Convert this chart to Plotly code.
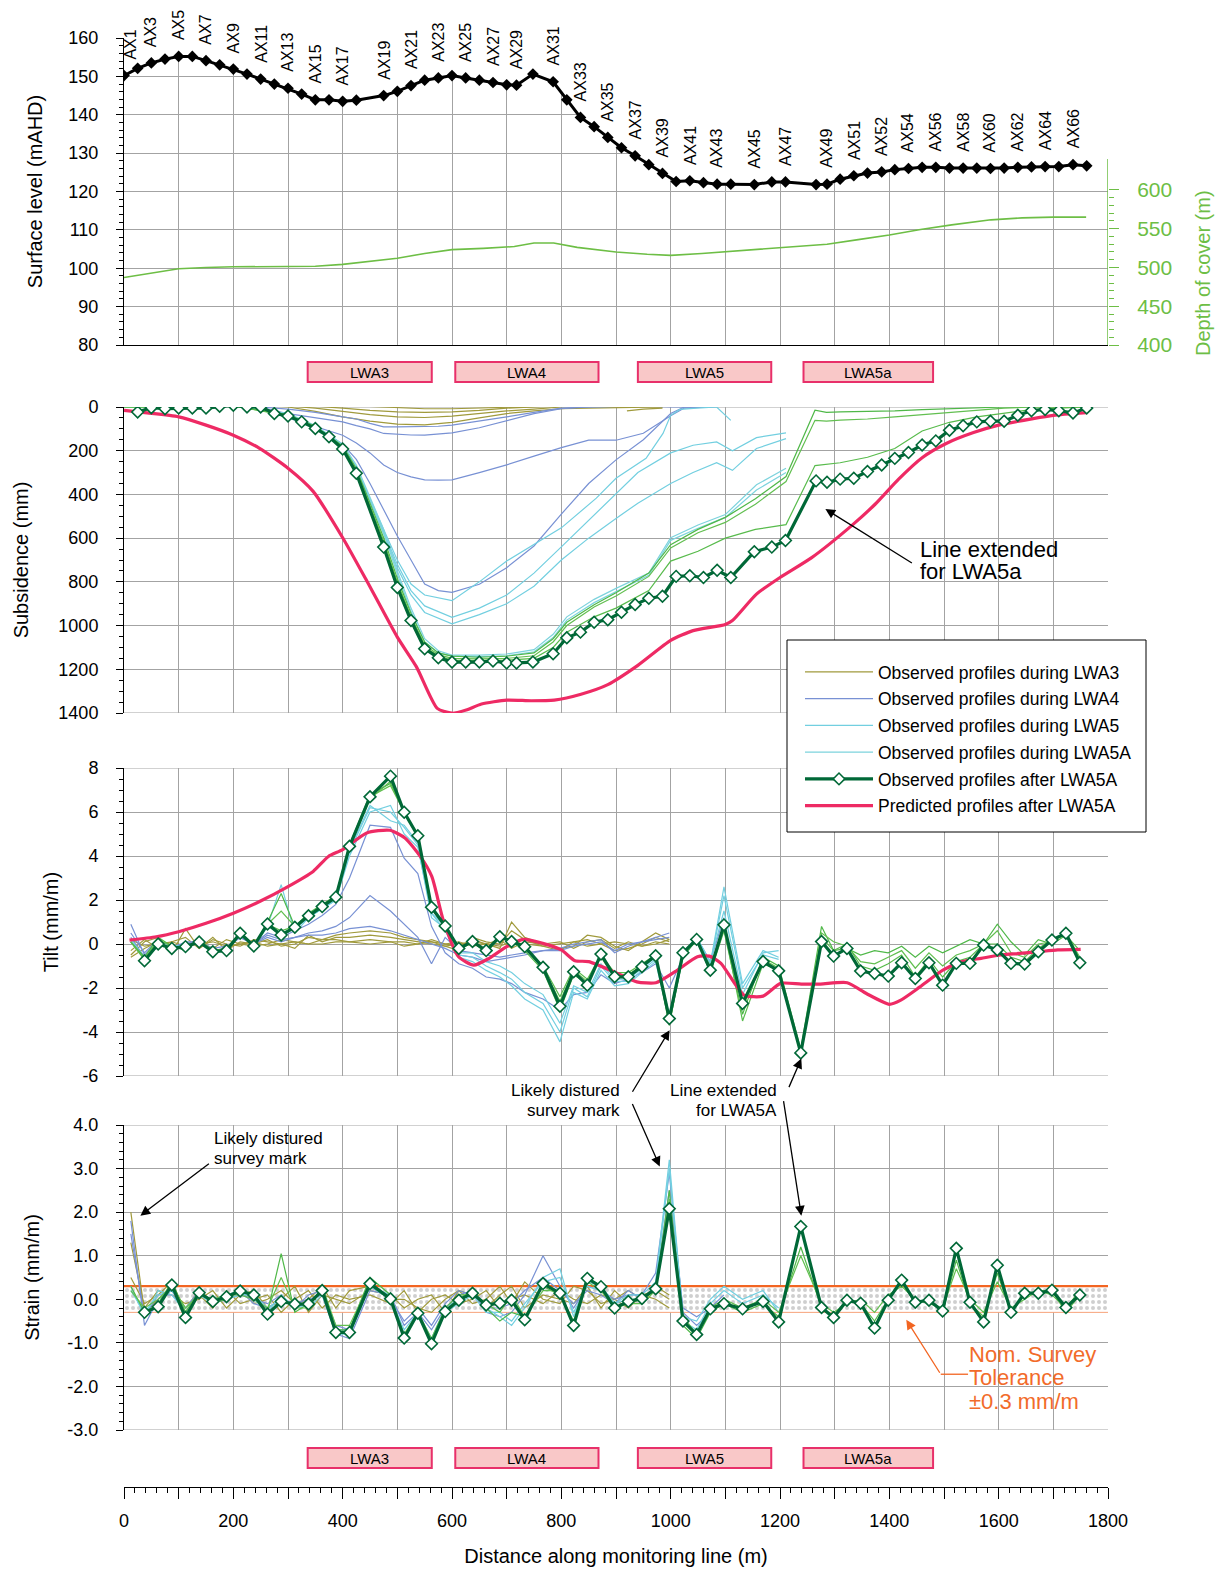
import plotly.graph_objects as go

# ------------------------------------------------------------------ DATA
mark_dist = [0, 25, 50, 75, 100, 125, 150, 175, 200, 225, 250, 275, 300, 325, 350, 375, 400, 425,
             475, 500, 525, 550, 575, 600, 625, 650, 675, 700, 718, 748, 785, 810, 835, 860, 885,
             910, 935, 960, 985, 1010, 1035, 1060, 1085, 1110, 1153, 1185, 1210, 1266, 1286,
             1310, 1335, 1360, 1386, 1410, 1435, 1460, 1485, 1510, 1535, 1560, 1585, 1610,
             1635, 1660, 1685, 1710, 1736, 1761]
surface_level = [150.2, 152.1, 153.5, 154.5, 155.2, 155.2, 154.1, 153.0, 151.9, 150.6, 149.3, 148.0,
                 146.9, 145.4, 143.9, 143.9, 143.5, 143.8,
                 145.0, 146.1, 147.6, 149.0, 149.6, 150.2, 149.6, 149.0, 148.4, 147.8,
                 147.7, 150.6,
                 148.6, 143.9, 139.3, 136.9, 134.1, 131.4, 129.3, 127.0, 124.7, 122.6, 122.8, 122.3,
                 121.9, 121.9,
                 121.8, 122.5, 122.5,
                 121.8, 121.9,
                 123.2, 124.1, 124.8, 125.1, 125.7, 126.0, 126.3, 126.3, 126.1, 126.1, 126.1, 126.0,
                 126.1, 126.3, 126.4, 126.5, 126.5, 127.0, 126.7]
mark_labels = ["AX1", "AX3", "AX5", "AX7", "AX9", "AX11", "AX13", "AX15", "AX17", "AX19", "AX21",
               "AX23", "AX25", "AX27", "AX29", "AX31", "AX33", "AX35", "AX37", "AX39", "AX41",
               "AX43", "AX45", "AX47", "AX49", "AX51", "AX52", "AX54", "AX56", "AX58", "AX60",
               "AX62", "AX64", "AX66"]

cover_x = [0, 50, 100, 150, 200, 300, 350, 400, 450, 500, 550, 600, 657, 714, 750, 786, 829, 900,
           957, 1000, 1057, 1143, 1200, 1286, 1343, 1400, 1457, 1514, 1586, 1643, 1700, 1760]
cover_depth = [487, 492.6, 498.3, 500, 500.9, 501.3, 501.7, 504, 508, 512, 518, 523, 524.7, 527,
               531.6, 531.6, 526, 520, 517, 515.6, 518, 522.5, 526, 530, 536, 542, 549, 555, 561.5,
               564, 565, 565]

panels = ["LWA3", "LWA4", "LWA5", "LWA5a"]
panel_start = [336, 606, 940, 1243]
panel_end = [563, 868, 1184, 1480]

# Subsidence (mm)
subs_final = [23, 3, 8, 5, 5, 5, -3, -8, 0, 0, 30, 41, 68, 98, 136, 192, 303,
              641, 826, 977, 1106, 1147, 1167, 1167, 1167, 1162, 1171,
              1171, 1167,
              1129, 1056, 1030, 985, 973, 939, 904, 875, 866, 775, 772, 780, 747, 780,
              662, 641, 611,
              338, 344,
              330, 326, 295, 265, 235, 208, 174, 155, 106, 86, 68, 65, 65, 38, 17, 11, 17, 27, 5]
pred_x = [0, 38, 100, 150, 200, 248, 300, 346, 400, 444, 500, 535, 573, 600, 626, 654, 700, 745,
          787, 836, 885, 940, 1000, 1041, 1100, 1113, 1157, 1200, 1258, 1330, 1374, 1417, 1460,
          1504, 1554, 1600, 1663, 1700, 1760]
pred_subs = [15, 26, 45, 83, 129, 189, 280, 386, 598, 795, 1053, 1189, 1379, 1401, 1386, 1359,
             1341, 1344, 1341, 1314, 1270, 1182, 1068, 1023, 995, 977, 856, 780, 689, 545, 445,
             330, 232, 167, 117, 83, 53, 38, 26]

lwa3_x = [0, 50, 100, 150, 200, 250, 300, 350, 400, 450, 500, 550, 600, 650, 700, 750, 800, 850,
          900, 950, 985]
lwa3_s1 = [0, -5, -5, -8, -10, -8, 0, 20, 45, 65, 78, 82, 70, 50, 30, 18, 8, 5, 3, 2, 0]
lwa3_s2 = [0, -8, -8, -10, -10, -8, -5, 5, 20, 35, 45, 48, 42, 30, 18, 10, 0, -5, 0, -3, 0]
lwa3_s3 = [0, -10, -10, -12, -12, -15, -12, -5, 5, 15, 22, 25, 22, 15, 5, 0, -5, -8, -3, -5, -3]
lwa3_s4 = [0, -10, -12, -12, -15, -15, -15, -12, -8, -2, 5, 8, 8, 5, 0, -3, -5, -8, -5, -5, -5]
lwa3_s5_x = [920, 950, 985]
lwa3_s5 = [18, 10, 5]

lwa4_x = [0, 100, 200, 250, 300, 350, 400, 425, 450, 475, 500, 525, 550, 575, 600, 650, 700, 750,
          800, 850, 900, 950, 1000, 1025, 1060, 1110]
lwa4_s1 = [0, -5, -5, 0, 10, 25, 45, 55, 75, 91, 91, 91, 91, 88, 83, 65, 45, 25, 5, 0, -3, -5, 0,
           0, -3, -5]
lwa4_s2 = [0, -5, -5, 5, 30, 50, 68, 85, 100, 121, 125, 128, 129, 125, 118, 95, 61, 30, 8, 0, -3,
           -5, -3, 0, -3, -5]
lwa4_s3 = [0, -5, -5, 5, 50, 90, 129, 165, 210, 265, 300, 320, 333, 335, 333, 300, 265, 225, 186,
           152, 152, 120, 40, 5, 0, -5]
lwa4_s4 = [0, -5, -5, 0, 35, 90, 170, 240, 350, 470, 590, 700, 810, 840, 848, 811, 735, 636, 490,
           350, 242, 150, 30, 0, 0, -5]

lwa5_x1 = [0, 100, 200, 300, 350, 400, 425, 450, 475, 500, 525, 550, 600, 650, 700, 750, 800, 864,
           900, 955, 986, 1000, 1017, 1048, 1084, 1110]
lwa5_s1 = [0, -5, -5, 30, 95, 180, 290, 420, 560, 700, 810, 860, 886, 800, 705, 629, 553, 417, 326,
           235, 121, 38, 11, 5, 0, 61]
lwa5_x = [0, 100, 200, 300, 350, 400, 425, 450, 475, 500, 525, 550, 600, 650, 700, 750, 800, 850,
          900, 940, 1000, 1041, 1084, 1113, 1157, 1211]
lwa5_s2 = [0, -5, -5, 30, 95, 182, 292, 425, 570, 720, 840, 910, 962, 920, 860, 760, 640, 520, 400,
           300, 210, 175, 160, 200, 140, 118]
lwa5_s3 = [0, -5, -5, 32, 96, 185, 295, 430, 580, 735, 860, 940, 992, 950, 900, 820, 700, 600, 510,
           440, 350, 300, 255, 290, 190, 145]

lwa5a_x = [0, 100, 200, 300, 350, 400, 425, 475, 500, 525, 550, 575, 600, 650, 700, 750, 785, 810,
           860, 900, 960, 1000, 1050, 1100, 1157, 1211]
lwa5a_s1 = [0, 0, -5, 30, 85, 170, 265, 560, 750, 920, 1060, 1115, 1135, 1135, 1130, 1110, 1040,
            960, 880, 830, 760, 598, 540, 492, 356, 280]
lwa5a_s2 = [0, 0, -5, 32, 88, 175, 272, 575, 765, 935, 1075, 1125, 1140, 1142, 1138, 1120, 1055,
            975, 895, 845, 770, 610, 555, 505, 380, 300]

green_x = [0, 100, 200, 300, 350, 400, 425, 475, 500, 525, 550, 575, 600, 650, 700, 750, 785, 810,
           860, 900, 960, 1000, 1050, 1100, 1155, 1211, 1264, 1285, 1310, 1360, 1410, 1460, 1510,
           1560, 1610, 1660, 1710, 1760]
green_s1 = [0, 0, -5, 35, 88, 178, 282, 598, 785, 945, 1075, 1125, 1140, 1145, 1140, 1125, 1060,
            985, 905, 850, 760, 630, 560, 505, 420, 318, 15, 25, 22, 20, 18, 12, 8, 5, 0, 0, 0, 0]
green_s2 = [0, 0, -5, 38, 92, 183, 290, 612, 800, 958, 1088, 1133, 1150, 1152, 1150, 1138, 1075,
            1000, 915, 865, 775, 645, 575, 528, 445, 341, 61, 65, 60, 55, 45, 35, 25, 15, 5, 0, 0, 0]
green_s3 = [0, 0, -5, 40, 95, 188, 296, 625, 812, 966, 1096, 1140, 1158, 1160, 1158, 1150, 1100,
            1030, 960, 920, 840, 705, 660, 600, 560, 538, 268, 262, 255, 230, 190, 110, 70, 45, 30,
            12, 5, 0]

# Tilt (mm/m) at bay mid-points
tilt_final = [-0.76, 0.0, -0.2, -0.12, 0.09, -0.35, -0.3, 0.49, -0.09, 0.91,
              0.41, 0.76, 1.28, 1.70, 2.13, 4.44, 6.69, 7.63, 5.99, 4.92,
              1.67, 0.82, -0.2, 0.11, -0.3, 0.33, 0.11, -0.12, -1.06, -2.83,
              -1.26, -1.87, -0.46, -1.49, -1.49, -1.03, -0.53, -3.39, -0.4, 0.21,
              -1.19, 0.87, -2.7, -0.8, -1.22, -4.95, 0.11, -0.55, -0.2, -1.23,
              -1.34, -1.46, -0.85, -1.57, -0.85, -1.87, -0.88, -0.88, -0.05, -0.27,
              -0.88, -0.91, -0.35, 0.18, 0.49, -0.85]
pred_tilt_x = [10, 59, 100, 150, 200, 248, 300, 346, 374, 400, 444, 486, 514, 542, 563, 584, 612,
               640, 668, 700, 731, 766, 800, 825, 850, 900, 938, 973, 1008, 1049, 1071, 1092, 1134,
               1169, 1201, 1239, 1274, 1323, 1358, 1400, 1421, 1456, 1498, 1533, 1568, 1603, 1638,
               1673, 1708, 1750]
pred_tilt = [0.18, 0.33, 0.56, 0.94, 1.4, 1.93, 2.61, 3.3, 3.98, 4.29, 5.05, 5.17, 4.82, 3.98, 3.07,
             1.09, -0.58, -0.96, -0.65, -0.12, 0.21, 0.03, -0.27, -0.76, -0.8, -1.3, -1.72, -1.76,
             -1.26, -0.58, -0.55, -0.88, -2.32, -2.37, -1.79, -1.82, -1.82, -1.76, -2.25, -2.74,
             -2.55, -1.95, -1.19, -0.8, -0.65, -0.5, -0.43, -0.35, -0.27, -0.24]
tilt_lwa3 = [
    [-0.5, 0.1, 0.3, -0.4, 0.7, -0.2, 0.3, -0.3, 0.1, 0.0, 0.2, -0.1, 0.0, 0.3, 0.2, 0.4, 0.5, 0.6,
     0.5, 0.3, 0.2, 0.1, 0.0, -0.1, 0.2, 0.0, -0.2, 1.0, 0.3, 0.0, -0.2, -0.1, 0.4, 0.3, -0.1, -0.3,
     0.1, 0.5, 0.2],
    [-0.3, 0.2, -0.2, 0.1, 0.3, -0.2, 0.2, 0.0, -0.1, 0.2, 0.1, 0.0, -0.2, 0.4, 0.1, 0.3, 0.3, 0.4,
     0.3, 0.2, 0.1, 0.0, -0.1, -0.3, 0.3, 0.1, 0.0, 0.6, 0.2, -0.1, -0.3, 0.1, 0.2, 0.0, -0.3, -0.2,
     0.0, 0.3, 0.1],
    [-0.6, -0.2, 0.1, -0.2, 0.0, 0.1, -0.2, 0.2, 0.0, -0.1, 0.0, 0.2, 0.1, 0.0, 0.2, 0.2, 0.1, 0.2,
     0.1, 0.1, 0.0, 0.2, 0.0, 0.1, -0.1, 0.0, 0.2, -0.2, 0.1, 0.0, 0.1, -0.2, 0.1, 0.2, -0.2, 0.1,
     -0.1, 0.0, 0.2],
    [0.2, -0.1, 0.0, 0.1, -0.1, 0.0, 0.1, -0.1, 0.0, 0.1, -0.1, 0.0, 0.1, 0.0, 0.0, 0.1, 0.1, 0.0,
     0.1, -0.1, 0.0, 0.1, -0.1, 0.0, 0.1, 0.0, -0.1, 0.1, 0.0, -0.1, 0.0, 0.1, -0.1, 0.0, 0.1, 0.0,
     -0.1, 0.1, 0.0]]
tilt_lwa4 = [
    [0.9, -0.5, 0.1, -0.1, 0.0, 0.2, -0.3, -0.2, 0.3, 0.0, 0.4, 0.2, 0.3, 0.5, 0.6, 0.8, 1.2, 2.2,
     1.5, 0.9, 0.3, -0.9, 0.3, -0.3, -0.4, -0.5, -0.6, -0.5, -0.4, -0.3, -0.2, 0.0, 0.1, 0.2, -0.4,
     -0.1, 0.1, 0.2, 0.3],
    [0.5, -0.4, 0.2, -0.2, 0.1, 0.1, -0.2, -0.1, 0.3, 0.0, 0.3, 0.1, 0.3, 0.4, 0.4, 0.5, 0.7, 0.8,
     0.6, 0.4, 0.2, 0.0, -0.2, -0.5, -0.6, -0.8, -0.7, -0.6, -0.5, -0.3, -0.3, -0.1, 0.0, 0.1, -0.3,
     0.0, 0.1, 0.3, 0.5],
    [0.3, -0.6, 0.1, -0.2, 0.0, 0.1, -0.3, -0.2, 0.4, 0.0, 0.5, 0.3, 0.6, 0.9, 1.3, 1.8, 3.0, 5.4,
     5.3, 3.9, 3.2, 0.8, -0.4, -0.9, -1.1, -1.5, -1.6, -1.8, -2.2, -2.5, -3.0, -2.3, -2.2, -1.4,
     -1.8, -1.6, -1.3, -0.9, -2.0, -0.6, 0.3, -0.8, 1.2]]
tilt_lwa5 = [
    [0.2, -0.6, 0.0, -0.1, -0.1, 0.1, -0.3, -0.3, 0.5, -0.1, 0.8, 2.7, 0.5, 1.2, 1.6, 2.0, 4.0, 6.0,
     6.3, 5.0, 4.4, 1.4, 0.6, -0.6, -0.8, -1.2, -1.5, -1.9, -2.5, -3.0, -4.45, -2.2, -2.5, -1.2,
     -1.9, -1.8, -1.3, -0.8, -3.5, -0.6, 0.2, -0.9, 2.6, -1.8, -0.3, -0.6],
    [0.1, -0.6, 0.0, -0.1, -0.1, 0.1, -0.3, -0.3, 0.5, -0.1, 0.8, 0.5, 0.7, 1.2, 1.6, 2.0, 4.2, 6.2,
     6.0, 5.3, 4.5, 1.2, 0.7, -0.5, -0.6, -1.0, -1.3, -1.6, -2.2, -2.7, -4.0, -2.0, -2.4, -1.0,
     -1.7, -1.7, -1.2, -0.7, -3.3, -0.5, 0.3, -0.9, 2.2, -2.0, -0.5, -0.7],
    [0.1, -0.7, -0.1, -0.1, -0.1, 0.1, -0.3, -0.3, 0.5, -0.1, 0.9, 0.4, 0.7, 1.3, 1.7, 2.1, 4.3,
     6.3, 5.6, 5.4, 4.6, 1.4, 0.8, -0.4, -0.4, -0.8, -1.0, -1.3, -1.8, -2.3, -3.6, -1.9, -2.2, -0.9,
     -1.6, -1.6, -1.1, -0.6, -3.2, -0.4, 0.3, -0.8, 1.5, -2.3, -0.4, -0.3]]
tilt_lwa5a = [
    [0.1, -0.6, 0.3, -0.1, -0.3, 0.2, -0.3, -0.2, 0.5, -0.1, 1.0, 2.3, 0.8, 1.4, 1.8, 2.2, 4.5, 6.8,
     7.3, 6.0, 4.9, 1.6, 0.8, -0.3, 0.1, -0.4, 0.3, 0.1, -0.3, -1.2, -3.0, -1.4, -1.8, -0.5, -1.4,
     -1.4, -1.0, -0.5, -3.6, -0.6, 0.2, -1.3, 0.6, -3.2, -0.6, -1.0, -4.8, 0.8, -0.3, -0.2, -0.5,
     -0.3, -0.4, -0.1, -0.6, -0.1, -0.4, -0.1, 0.2, 0.0, 0.9, 0.1, -0.5, 0.2, 0.0, 0.4, -0.3],
    [0.1, -0.7, 0.2, -0.1, -0.2, 0.1, -0.3, -0.3, 0.5, -0.1, 0.9, 1.5, 0.8, 1.3, 1.8, 2.1, 4.5, 6.7,
     7.2, 6.0, 4.9, 1.7, 0.8, -0.2, 0.1, -0.3, 0.3, 0.1, -0.2, -1.1, -2.6, -1.2, -1.7, -0.6, -1.5,
     -1.4, -1.0, -0.6, -3.5, -0.5, 0.2, -1.1, 0.7, -2.9, -0.7, -1.1, -4.9, 0.5, 0.1, -0.1, -0.8,
     -0.9, -0.6, -0.3, -1.1, -0.4, -1.0, -0.5, -0.3, 0.0, 0.6, -0.4, -0.6, 0.0, 0.1, 0.5, -0.6],
    [0.1, -0.7, 0.1, -0.2, -0.1, 0.1, -0.3, -0.3, 0.5, -0.1, 0.9, 0.6, 0.8, 1.3, 1.7, 2.1, 4.4, 6.6,
     7.4, 6.0, 4.9, 1.7, 0.8, -0.2, 0.1, -0.3, 0.3, 0.1, -0.1, -1.0, -2.4, -1.1, -1.6, -0.5, -1.3,
     -1.3, -0.9, -0.5, -3.7, -0.4, 0.1, -1.0, 0.8, -3.5, -0.9, -1.2, -5.0, 0.3, -0.3, 0.0, -1.0,
     -1.2, -0.9, -0.5, -1.5, -0.7, -1.5, -0.8, -0.6, 0.0, 0.0, -0.6, -0.8, -0.2, 0.2, 0.4, -0.7]]

# Strain (mm/m) at bay mid-points
strain_final = [-0.30, -0.17, 0.33, -0.42, 0.15, -0.05, 0.06, 0.19, 0.10, -0.34,
                -0.05, -0.11, -0.11, 0.20, -0.76, -0.76, 0.36, 0.01, -0.89, -0.32,
                -1.02, -0.28, -0.02, 0.14, -0.13, -0.09, -0.02, -0.47, 0.36, 0.14,
                -0.60, 0.48, 0.29, -0.20, -0.05, 0.02, 0.24, 2.08, -0.50, -0.81,
                -0.22, -0.10, -0.22, -0.05, -0.52, 1.67, -0.19, -0.42, -0.02, -0.09,
                -0.66, -0.02, 0.44, -0.07, -0.02, -0.27, 1.17, -0.07, -0.52, 0.78,
                -0.30, 0.14, 0.14, 0.21, -0.19, 0.10]
strain_lwa3 = [
    [2.0, -0.3, 0.0, 0.3, -0.2, 0.2, -0.1, 0.1, 0.2, -0.1, 0.0, 0.2, -0.1, 0.0, 0.3, -0.2, 0.2, 0.3,
     0.0, 0.0, -0.2, -0.3, 0.0, 0.2, -0.1, 0.0, 0.3, -0.1, 0.4, 0.0, -0.1, 0.3, 0.2, -0.1, 0.0, 0.2,
     0.0, 0.3, 0.1],
    [1.3, -0.2, 0.2, 0.1, -0.1, 0.0, 0.2, -0.2, 0.1, 0.2, -0.2, 0.0, 0.3, -0.3, 0.1, 0.0, -0.1, 0.2,
     0.1, -0.2, 0.0, 0.1, -0.3, 0.2, 0.1, -0.2, 0.1, 0.3, -0.2, 0.1, 0.0, -0.1, 0.3, -0.2, 0.2, -0.1,
     0.1, 0.0, -0.2],
    [0.5, -0.1, 0.1, 0.4, -0.3, 0.1, -0.2, 0.2, -0.1, 0.0, 0.1, -0.3, 0.0, 0.2, -0.2, 0.1, 0.0, 0.1,
     -0.1, 0.2, -0.3, 0.0, 0.1, -0.1, 0.0, 0.2, -0.2, 0.0, 0.1, -0.1, 0.2, 0.0, -0.1, 0.1, 0.0, -0.2,
     0.1, 0.2, 0.0]]
strain_lwa4 = [
    [1.8, -0.6, 0.0, 0.2, -0.3, 0.1, 0.0, 0.1, 0.2, -0.1, -0.2, 0.0, -0.1, 0.0, 0.1, -0.8, -0.9, 0.2,
     0.1, -0.6, -0.3, -0.7, -0.2, 0.1, 0.2, -0.3, -0.4, -0.3, 0.1, 1.0, 0.3, -0.2, 0.3, 0.2, 0.0,
     0.1, 0.1, 0.6, 2.9, -0.3, -0.6, -0.3, 0.0],
    [1.5, -0.4, 0.1, 0.1, -0.2, 0.2, -0.1, 0.0, 0.1, 0.0, -0.1, 0.1, -0.2, 0.1, 0.2, -0.6, -0.7, 0.3,
     0.0, -0.5, -0.2, -0.6, -0.1, 0.2, 0.1, -0.2, -0.2, -0.1, 0.2, 0.5, 0.2, -0.1, 0.2, 0.1, -0.1,
     0.2, 0.0, 0.3, 2.5, -0.2, -0.4, -0.2, 0.1]]
strain_lwa5 = [
    [0.3, -0.4, 0.2, 0.1, -0.3, 0.1, -0.1, 0.1, 0.2, 0.0, -0.3, 0.1, -0.2, -0.1, 0.2, -0.8, -0.8,
     0.3, 0.0, -0.7, -0.3, -0.9, -0.2, 0.0, 0.2, -0.2, -0.4, -0.6, -0.2, 0.5, 0.7, -0.4, 0.4, 0.3,
     -0.1, 0.1, 0.1, 0.4, 3.2, -0.4, -0.5, 0.0, 0.3, 0.0, 0.2, -0.3],
    [0.2, -0.3, 0.1, 0.2, -0.2, 0.1, 0.0, 0.0, 0.1, 0.1, -0.2, 0.0, -0.1, -0.2, 0.1, -0.7, -0.7, 0.3,
     0.1, -0.8, -0.4, -0.9, -0.3, -0.1, 0.1, -0.3, -0.3, -0.5, -0.1, 0.4, 0.5, -0.3, 0.3, 0.2, -0.1,
     0.0, 0.0, 0.3, 3.0, -0.5, -0.7, -0.1, 0.2, -0.1, 0.1, -0.2]]
strain_lwa5a = [
    [0.3, -0.3, -0.1, 0.4, -0.3, 0.2, -0.1, 0.0, 0.2, 0.1, -0.3, 1.05, -0.3, -0.1, 0.2, -0.7, -0.7,
     0.5, 0.1, -0.9, -0.3, -1.0, -0.3, 0.0, 0.2, -0.2, -0.5, -0.3, -0.4, 0.3, 0.1, -0.5, 0.5, 0.3,
     -0.2, -0.1, 0.0, 0.2, 2.5, -0.6, -0.9, -0.3, -0.1, -0.3, -0.1, -0.4, 1.2, -0.2, -0.4, 0.0,
     -0.1, -0.5, 0.0, 0.4, -0.1, 0.0, -0.3, 0.9, -0.1, -0.4, 0.6, -0.3, 0.1, 0.2, 0.1, -0.2, 0.2],
    [0.2, -0.2, 0.0, 0.3, -0.2, 0.1, 0.0, 0.1, 0.1, 0.0, -0.2, 0.5, -0.2, -0.2, 0.3, -0.6, -0.6, 0.4,
     0.0, -0.8, -0.3, -0.9, -0.2, 0.1, 0.1, -0.1, -0.3, 0.1, -0.4, 0.2, 0.2, -0.6, 0.4, 0.2, -0.2,
     -0.1, -0.1, 0.2, 2.3, -0.4, -0.8, -0.2, 0.0, -0.2, 0.0, -0.3, 1.0, -0.1, -0.3, -0.1, 0.0, -0.3,
     0.1, 0.3, 0.0, -0.1, -0.2, 0.7, 0.0, -0.3, 0.4, -0.2, 0.0, 0.2, 0.2, -0.3, 0.1]]

tolerance = 0.3
tilt_ticks = [-6, -4, -2, 0, 2, 4, 6, 8]
tilt_ticktext = ["-6", "-4", "-2", "0", "2", "4", "6", "8"]
strain_ticks = [-3, -2, -1, 0, 1, 2, 3, 4]
strain_ticktext = ["-3.0", "-2.0", "-1.0", "0.0", "1.0", "2.0", "3.0", "4.0"]
dist_ticks = list(range(0, 1801, 100))
dist_ticktext = [str(v) if v % 200 == 0 else "" for v in dist_ticks]

# ------------------------------------------------------------------ STYLE
C_OLIVE = "#a09a3c"
C_BLUE = "#7891d4"
C_CYAN5 = "#72cfe0"
C_CYAN5A = "#7dd3dd"
C_GREENS = ["#4fb848", "#62bf50", "#58bb4c"]
C_DARK = "#006837"
C_PRED = "#ee2a64"
C_COVER = "#6dbe45"
C_ORANGE = "#f26522"
GRID = "#a3a3a3"
FONT = "Arial, Liberation Sans, sans-serif"

OFF = 8                     # page body margin
W, H = 1227 - OFF, 1573 - OFF
PW, PH = 984, 1449
L, T = 124 - OFF, 38 - OFF
R, B = W - L - PW, H - T - PH


def py(px):  # reference pixel row -> paper y
    return (T + PH - (px - OFF)) / PH


def pxx(px):  # reference pixel column -> paper x
    return (px - OFF - L) / PW


def dom(top, bot):
    return [py(bot), py(top)]


mid = [(a + b) / 2 for a, b in zip(mark_dist[:-1], mark_dist[1:])]

fig = go.Figure()


def line(x, y, xa, ya, color, width=1.2, name=None, legend=False, rank=None, **kw):
    n = min(len(x), len(y))
    fig.add_trace(go.Scatter(x=x[:n], y=y[:n], xaxis=xa, yaxis=ya, mode="lines",
                             line=dict(color=color, width=width), name=name,
                             showlegend=legend, legendrank=rank, hoverinfo="skip", **kw))


# ---- Panel 1: surface level and depth of cover
fig.add_trace(go.Scatter(x=mark_dist + [1800, 1800, 0],
                         y=surface_level + [surface_level[-1], 170, 170],
                         xaxis="x", yaxis="y", mode="lines", fill="toself",
                         fillcolor="white", line=dict(width=0), showlegend=False,
                         hoverinfo="skip"))
line(cover_x, cover_depth, "x", "y2", C_COVER, 1.6)
fig.add_trace(go.Scatter(x=mark_dist, y=surface_level, xaxis="x", yaxis="y",
                         mode="lines+markers", line=dict(color="black", width=3),
                         marker=dict(symbol="diamond", size=9, color="black"),
                         showlegend=False, hoverinfo="skip"))

# ---- Panel 2: subsidence
for i, s in enumerate([lwa3_s1, lwa3_s2, lwa3_s3, lwa3_s4]):
    line(lwa3_x, s, "x2", "y3", C_OLIVE, name="Observed profiles during LWA3",
         legend=(i == 0), rank=1, legendgroup="a")
line(lwa3_s5_x, lwa3_s5, "x2", "y3", C_OLIVE, legendgroup="a")
for i, s in enumerate([lwa4_s1, lwa4_s2, lwa4_s3, lwa4_s4]):
    line(lwa4_x, s, "x2", "y3", C_BLUE, name="Observed profiles during LWA4",
         legend=(i == 0), rank=2, legendgroup="b")
line(lwa5_x1, lwa5_s1, "x2", "y3", C_CYAN5, name="Observed profiles during LWA5",
     legend=True, rank=3, legendgroup="c")
line(lwa5_x, lwa5_s2, "x2", "y3", C_CYAN5, legendgroup="c")
line(lwa5_x, lwa5_s3, "x2", "y3", C_CYAN5, legendgroup="c")
line(lwa5a_x, lwa5a_s1, "x2", "y3", C_CYAN5A, name="Observed profiles during LWA5A",
     legend=True, rank=4, legendgroup="d")
line(lwa5a_x, lwa5a_s2, "x2", "y3", C_CYAN5A, legendgroup="d")
for g, s in zip(C_GREENS, [green_s1, green_s2, green_s3]):
    line(green_x, s, "x2", "y3", g, legendgroup="d")
fig.add_trace(go.Scatter(x=pred_x, y=pred_subs, xaxis="x2", yaxis="y3", mode="lines",
                         line=dict(color=C_PRED, width=3.2, shape="spline", smoothing=0.6),
                         name="Predicted profiles after LWA5A", showlegend=True,
                         legendrank=6, legendgroup="f", hoverinfo="skip"))
DIAMOND = dict(symbol="diamond", size=9, color="white", line=dict(color=C_DARK, width=1.6))
fig.add_trace(go.Scatter(x=mark_dist[1:], y=subs_final, xaxis="x2", yaxis="y3",
                         mode="lines+markers", line=dict(color=C_DARK, width=3.2),
                         marker=DIAMOND, name="Observed profiles after LWA5A",
                         showlegend=True, legendrank=5, legendgroup="e", hoverinfo="skip"))

# ---- Panel 3: tilt
for s in tilt_lwa3:
    line(mid, s, "x3", "y4", C_OLIVE)
for s in tilt_lwa4:
    line(mid, s, "x3", "y4", C_BLUE)
for s in tilt_lwa5:
    line(mid, s, "x3", "y4", C_CYAN5)
for g, s in zip(C_GREENS, tilt_lwa5a):
    line(mid, s, "x3", "y4", g)
fig.add_trace(go.Scatter(x=pred_tilt_x, y=pred_tilt, xaxis="x3", yaxis="y4", mode="lines",
                         line=dict(color=C_PRED, width=3.2, shape="spline", smoothing=0.6),
                         showlegend=False, hoverinfo="skip"))
fig.add_trace(go.Scatter(x=mid[1:], y=tilt_final, xaxis="x3", yaxis="y4",
                         mode="lines+markers", line=dict(color=C_DARK, width=3.2),
                         marker=DIAMOND, showlegend=False, hoverinfo="skip"))

# ---- Panel 4: strain
fig.add_trace(go.Scatter(x=[0, 1800, 1800, 0, 0],
                         y=[-tolerance, -tolerance, tolerance, tolerance, -tolerance],
                         xaxis="x4", yaxis="y5", mode="lines", fill="toself",
                         fillcolor="rgba(0,0,0,0)",
                         fillpattern=dict(shape=".", fgcolor="#a0a0a0", bgcolor="white",
                                          size=6, solidity=0.35),
                         line=dict(width=0), showlegend=False, hoverinfo="skip"))
line([0, 1800], [tolerance, tolerance], "x4", "y5", C_ORANGE, 2.2)
line([0, 1800], [-tolerance, -tolerance], "x4", "y5", "#f7a37a", 1.0)
for s in strain_lwa3:
    line(mid, s, "x4", "y5", C_OLIVE)
for s in strain_lwa4:
    line(mid, s, "x4", "y5", C_BLUE)
for s in strain_lwa5:
    line(mid, s, "x4", "y5", C_CYAN5)
for g, s in zip(C_GREENS, strain_lwa5a):
    line(mid, s, "x4", "y5", g)
fig.add_trace(go.Scatter(x=mid[1:], y=strain_final, xaxis="x4", yaxis="y5",
                         mode="lines+markers", line=dict(color=C_DARK, width=3.2),
                         marker=DIAMOND, showlegend=False, hoverinfo="skip"))

# ------------------------------------------------------------------ AXES
TICKF = dict(family=FONT, size=18, color="black")
TITLEF = dict(family=FONT, size=20, color="black")


def xax(**kw):
    d = dict(domain=[0, 1], range=[0, 1800], showgrid=True, gridcolor=GRID, gridwidth=1,
             tickmode="array", tickvals=dist_ticks, showticklabels=False, ticks="",
             zeroline=False, showline=False)
    d.update(kw)
    return d


def yax(dm, rng, **kw):
    d = dict(domain=dm, range=rng, showgrid=True, gridcolor=GRID, gridwidth=1, zeroline=False,
             showline=True, linecolor="black", linewidth=1, ticks="outside", ticklen=7,
             tickcolor="black", tickfont=TICKF, ticklabelstandoff=14)
    d.update(kw)
    return d


def minor(step):
    return dict(dtick=step, tick0=0, ticks="outside", ticklen=4, tickcolor="black",
                showgrid=False)


fig.update_layout(
    width=W, height=H, margin=dict(l=L, r=R, t=T, b=B, autoexpand=False),
    paper_bgcolor="white", plot_bgcolor="white", hovermode=False,
    font=dict(family=FONT, size=16, color="black"),
    xaxis=xax(anchor="y", showline=True, linecolor="black"),
    xaxis2=xax(anchor="y3"),
    xaxis3=xax(anchor="y4"),
    xaxis4=xax(anchor="free", position=0, showline=True, linecolor="black",
               ticks="outside", ticklen=11, tickcolor="black", showticklabels=True,
               ticktext=dist_ticktext, tickfont=TICKF, ticklabelstandoff=6,
               minor=dict(dtick=20, ticks="outside", ticklen=5, tickcolor="black",
                          showgrid=False),
               title=dict(text="Distance along monitoring line (m)", font=TITLEF,
                          standoff=19)),
    yaxis=yax(dom(38, 345), [80, 160], anchor="x", dtick=10, tick0=80, minor=minor(2),
              title=dict(text="Surface level (mAHD)", font=TITLEF, standoff=20)),
    yaxis2=dict(domain=dom(38, 345), overlaying="y", side="right", anchor="x",
                range=[400, 796.1], showgrid=False, zeroline=False, showline=False,
                tickmode="array", tickvals=[400, 450, 500, 550, 600], ticks="outside",
                ticklen=10, tickcolor=C_COVER, ticklabelstandoff=14,
                tickfont=dict(family=FONT, size=21, color=C_COVER),
                minor=dict(tickvals=[v for v in range(410, 600, 10) if v % 50],
                           ticks="outside", ticklen=5, tickcolor=C_COVER, showgrid=False)),
    yaxis3=yax(dom(407, 713), [1400, 0], anchor="x2", dtick=200, tick0=0, minor=minor(50),
               title=dict(text="Subsidence (mm)", font=TITLEF, standoff=24)),
    yaxis4=yax(dom(768, 1076), [-6, 8], anchor="x3", tickmode="array", tickvals=tilt_ticks,
               ticktext=tilt_ticktext, minor=minor(0.5),
               title=dict(text="Tilt (mm/m)", font=TITLEF, standoff=18)),
    yaxis5=yax(dom(1125, 1430), [-3, 4], anchor="x4", tickmode="array", tickvals=strain_ticks,
               ticktext=strain_ticktext, minor=minor(0.2),
               title=dict(text="Strain (mm/m)", font=TITLEF, standoff=22)),
    legend=dict(x=pxx(800), y=py(654), xanchor="left", yanchor="top",
                bgcolor="rgba(0,0,0,0)", borderwidth=0, font=dict(family=FONT, size=17.5),
                itemwidth=68, tracegroupgap=1, traceorder="grouped"),
)

# ------------------------------------------------------------------ SHAPES / ANNOTATIONS
shapes = []
annotations = []
# legend frame
shapes.append(dict(type="rect", xref="paper", yref="paper", x0=pxx(787), x1=pxx(1146),
                   y0=py(832), y1=py(640), fillcolor="white", line=dict(color="black", width=1),
                   layer="above"))
# depth of cover axis line and title
shapes.append(dict(type="line", xref="x", yref="y2", x0=1800, x1=1800, y0=400, y1=640,
                   line=dict(color=C_COVER, width=1.5)))
annotations.append(dict(xref="paper", yref="paper", x=pxx(1203), y=py(273),
                        text="Depth of cover (m)", textangle=-90, showarrow=False,
                        xanchor="center", yanchor="middle",
                        font=dict(size=20, family=FONT, color=C_COVER)))
# panel frame lines (top / bottom)
for xr, yr, vals in [("x2", "y3", [0, 1400]), ("x3", "y4", [-6, 8]), ("x4", "y5", [-3, 4])]:
    for v in vals:
        shapes.append(dict(type="line", xref=xr, yref=yr, x0=0, x1=1800, y0=v, y1=v,
                           line=dict(color=GRID, width=1), layer="below"))
# longwall panel boxes (two rows)
for top, bot in [(362, 382), (1448, 1468)]:
    for name, a, b in zip(panels, panel_start, panel_end):
        shapes.append(dict(type="rect", xref="x", yref="paper", x0=a, x1=b, y0=py(bot),
                           y1=py(top), fillcolor="#f9c8c8", line=dict(color="#e8306a", width=2)))
        annotations.append(dict(xref="x", yref="paper", x=(a + b) / 2, y=py((top + bot) / 2),
                                yanchor="middle", xanchor="center", text=name,
                                showarrow=False, font=dict(size=15, family=FONT)))
# survey mark labels
for i, (lab, xv, yv) in enumerate(zip(mark_labels, mark_dist[::2], surface_level[::2])):
    annotations.append(dict(xref="x", yref="y", x=xv, y=yv, text=lab, textangle=-90,
                            showarrow=False, yanchor="bottom", xanchor="center", yshift=14,
                            xshift=7 if i == 0 else 0, font=dict(size=16, family=FONT)))

ARR = dict(showarrow=True, arrowhead=2, arrowsize=1.5, arrowwidth=1.3, arrowcolor="black",
           text="")


def text_lines(lines, x_px, y_pxs, anchor, size, color="black"):
    for t, yy in zip(lines, y_pxs):
        annotations.append(dict(xref="paper", yref="paper", x=pxx(x_px), y=py(yy), text=t,
                                showarrow=False, xanchor=anchor, yanchor="middle",
                                font=dict(size=size, family=FONT, color=color)))


# subsidence: line extended
text_lines(["Line extended", "for LWA5a"], 918, [549, 572], "left", 22)
annotations.append(dict(ARR, xref="x2", yref="y3", x=1283, y=467, axref="x2", ayref="y3",
                        ax=1444, ay=718))
# between tilt and strain
text_lines(["Likely distured", "survey mark"], 622, [1090, 1110], "right", 17)
text_lines(["Line extended", "for LWA5A"], 779, [1090, 1110], "right", 17)
annotations.append(dict(ARR, xref="x3", yref="y4", x=998, y=-3.92, ax=-38, ay=63))
annotations.append(dict(ARR, xref="x4", yref="y5", x=980, y=3.05, ax=-28, ay=-64))
annotations.append(dict(ARR, xref="x3", yref="y4", x=1239, y=-5.21, ax=-13, ay=30))
annotations.append(dict(ARR, xref="x4", yref="y5", x=1239, y=1.92, ax=-18, ay=-116))
# strain left
text_lines(["Likely distured", "survey mark"], 212, [1138, 1158], "left", 17)
annotations.append(dict(ARR, xref="x4", yref="y5", x=30, y=1.92, ax=70, ay=-53))
# tolerance note
text_lines(["Nom. Survey", "Tolerance", "±0.3 mm/m"], 967, [1354, 1377, 1401], "left", 22,
           "#f26b2a")
annotations.append(dict(ARR, xref="x4", yref="y5", x=1431, y=-0.47, axref="x4", ayref="y5",
                        ax=1494, ay=-1.72, arrowcolor=C_ORANGE))
shapes.append(dict(type="line", xref="x4", yref="y5", x0=1494, x1=1544, y0=-1.72, y1=-1.72,
                   line=dict(color=C_ORANGE, width=1.3)))

fig.update_layout(shapes=shapes, annotations=annotations)
fig.write_html("out.html")
